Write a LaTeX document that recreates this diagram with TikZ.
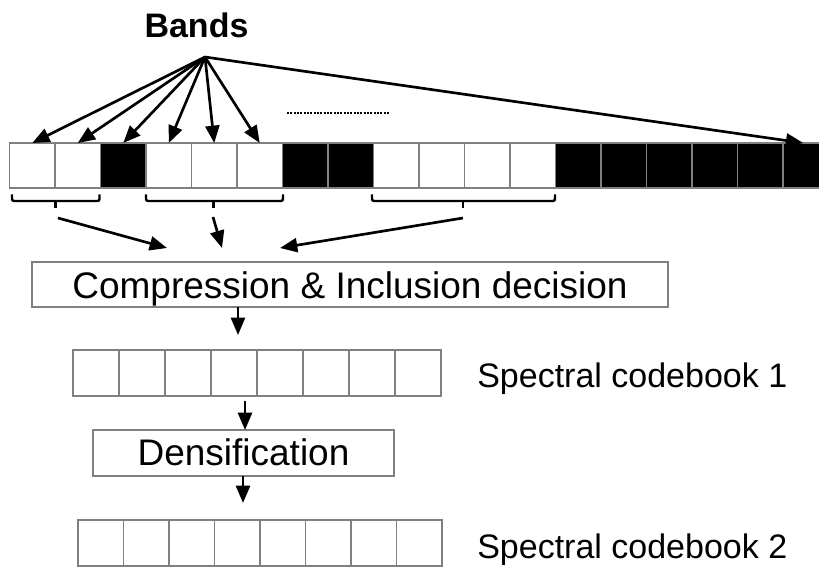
\documentclass[tikz,border=0pt]{standalone}
\usepackage{fontspec}
\setmainfont{Liberation Sans}
\usetikzlibrary{arrows.meta}
\definecolor{cellgray}{RGB}{128,128,128}
\begin{document}
\begin{tikzpicture}[x=0.75pt,y=-0.75pt,
  cell/.style={draw=cellgray,line width=1.2pt,fill=white,inner sep=0pt,outer sep=0pt,
               minimum width=45.5*0.75pt,minimum height=45*0.75pt},
  blackcell/.style={cell,fill=black},
  cbcell/.style={draw=cellgray,line width=1.2pt,fill=white,inner sep=0pt,outer sep=0pt,
               minimum height=46*0.75pt},
  box/.style={draw=cellgray,line width=1.2pt,fill=white,inner sep=0pt,outer sep=0pt,
              font=\fontsize{27.75pt}{30pt}\selectfont,text depth=0pt},
  lab/.style={font=\fontsize{25.5pt}{28pt}\selectfont,inner sep=0pt,anchor=base west},
  arr/.style={line width=2pt,-{Triangle[length=13pt,width=10.5pt]}},
  brace/.style={line width=1.8pt,rounded corners=1.5pt},
  ]
\useasboundingbox (0,0) rectangle (819,567);

% title
\node[font=\bfseries\fontsize{25.5pt}{28pt}\selectfont,inner sep=0pt,anchor=base] (bands) at (196.5,38) {Bands};

% band row
\foreach \i in {1,2,4,5,6,9,10,11,12}
  \node[cell] (c\i) at ({9.5+45.5*(\i-0.5)},165.5) {};
\foreach \i in {3,7,8,13,14,15,16,17,18}
  \node[blackcell] (c\i) at ({9.5+45.5*(\i-0.5)},165.5) {};

% fan of arrows
\coordinate (src) at (205,57);
\foreach \i in {1,...,6}
  \draw[arr] (src) -- (c\i.north);
\draw[arr] (src) -- ([xshift=-2.5*0.75pt]c18.north);

% dotted ellipsis
\draw[line width=2pt,dash pattern=on 1.6pt off 0.9pt] (287,113) -- (390,113);

% braces
\draw[brace] (12,194.5) -- (12,201) -- (99.5,201) -- (99.5,194.5);
\draw[brace] (55.5,201) -- (55.5,208.5);
\draw[brace] (146,194.5) -- (146,201) -- (283,201) -- (283,194.5);
\draw[brace] (213.5,201) -- (213.5,208.5);
\draw[brace] (372,194.5) -- (372,201) -- (555,201) -- (555,194.5);
\draw[brace] (463,201) -- (463,208.5);

% arrows to compression
\coordinate (g1s) at (58,218);  \coordinate (g1e) at (167,248);
\coordinate (g2s) at (213,217); \coordinate (g2e) at (222,248);
\coordinate (g3s) at (463,218); \coordinate (g3e) at (280,248);
\draw[arr] (g1s) -- (g1e);
\draw[arr] (g2s) -- (g2e);
\draw[arr] (g3s) -- (g3e);

% compression box
\node[box,minimum width=636*0.75pt,minimum height=45*0.75pt,text height=20.25pt]
  (comp) at (350,284.5) {Compression \& Inclusion decision};

% codebook 1
\foreach \i in {1,...,8}
  \node[cbcell,minimum width=46*0.75pt] (a\i) at ({73+46*(\i-0.5)},373) {};
\node[lab] (lab1) at (477,387) {Spectral codebook 1};

% densification
\node[box,minimum width=301*0.75pt,minimum height=46*0.75pt,text height=18pt]
  (dens) at (243.5,453) {Densification};

% codebook 2
\foreach \i in {1,...,8}
  \node[cbcell,minimum width=45.5*0.75pt] (b\i) at ({78+45.5*(\i-0.5)},543) {};
\node[lab] (lab2) at (477,558) {Spectral codebook 2};

% vertical arrows
\coordinate (k1) at (238,335);
\draw[arr] (comp.south -| k1) -- (k1);
\coordinate (k2) at (245,401);
\draw[arr] (k2) -- (dens.north -| k2);
\coordinate (k3) at (243,503);
\draw[arr] (dens.south -| k3) -- (k3);
\end{tikzpicture}
\end{document}
